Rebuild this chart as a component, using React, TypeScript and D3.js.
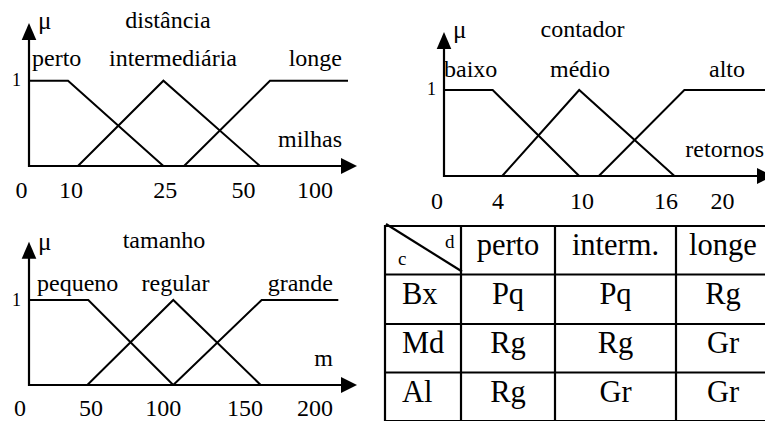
import React from 'react';
import * as d3 from 'd3';

// ---------------- data ----------------
const distanciaTicks = [0, 10, 25, 50, 100];
const distanciaSets = [
  { name: 'perto', points: [[9.4, 1], [24.7, 0]], left: true, right: false },
  { name: 'intermediária', points: [[11.1, 0], [24.7, 1], [61.5, 0]], left: false, right: false },
  { name: 'longe', points: [[31, 0], [68.5, 1]], left: false, right: true },
];

const contadorTicks = [0, 4, 10, 16, 20];
const contadorSets = [
  { name: 'baixo', points: [[3.65, 1], [9.8, 0]], left: true, right: false },
  { name: 'médio', points: [[4.3, 0], [9.8, 1], [16.6, 0]], left: false, right: false },
  { name: 'alto', points: [[11.2, 0], [17.3, 1]], left: false, right: true },
];

const tamanhoTicks = [0, 50, 100, 150, 200];
const tamanhoSets = [
  { name: 'pequeno', points: [[48.1, 1], [106.1, 0]], left: true, right: false },
  { name: 'regular', points: [[47.4, 0], [106.1, 1], [161.2, 0]], left: false, right: false },
  { name: 'grande', points: [[106.1, 0], [161.9, 1]], left: false, right: true },
];

const tableColumns = ['perto', 'interm.', 'longe'];
const tableRows = ['Bx', 'Md', 'Al'];
const tableCells = [
  ['Pq', 'Pq', 'Rg'],
  ['Rg', 'Rg', 'Gr'],
  ['Rg', 'Gr', 'Gr'],
];

// ---------------- layout ----------------
const FONT = 'Liberation Serif';
const W = 765;
const H = 421;

type Lbl = { x: number; anchor: 'start' | 'middle' | 'end' };

const panels = [
  {
    title: 'distância', unit: 'milhas', ticks: distanciaTicks, sets: distanciaSets,
    tickX: [21.5, 71, 165.3, 243.5, 315], originX: 29, axisEndX: 357, shoulderEndX: 348,
    yOne: 80.7, yBase: 166, arrowTopY: 23,
    titleX: 168, titleY: 28, muX: 38, muY: 29, labelY: 65.7,
    labels: [{ x: 32, anchor: 'start' }, { x: 173, anchor: 'middle' }, { x: 342, anchor: 'end' }] as Lbl[],
    oneX: 16.5, oneY: 86, unitX: 342, unitY: 147, tickY: 198,
  },
  {
    title: 'contador', unit: 'retornos', ticks: contadorTicks, sets: contadorSets,
    tickX: [437, 498, 582, 666, 722.5], originX: 444, axisEndX: 773, shoulderEndX: 766,
    yOne: 90, yBase: 176, arrowTopY: 32,
    titleX: 582.5, titleY: 37, muX: 453, muY: 38, labelY: 77,
    labels: [{ x: 444, anchor: 'start' }, { x: 580, anchor: 'middle' }, { x: 727, anchor: 'middle' }] as Lbl[],
    oneX: 431.5, oneY: 95, unitX: 764, unitY: 157, tickY: 209,
  },
  {
    title: 'tamanho', unit: 'm', ticks: tamanhoTicks, sets: tamanhoSets,
    tickX: [20, 91, 163.3, 245, 315], originX: 29, axisEndX: 357, shoulderEndX: 338.3,
    yOne: 300, yBase: 385, arrowTopY: 241.7,
    titleX: 164, titleY: 248, muX: 38, muY: 250, labelY: 291,
    labels: [{ x: 37, anchor: 'start' }, { x: 175.5, anchor: 'middle' }, { x: 333, anchor: 'end' }] as Lbl[],
    oneX: 16.5, oneY: 306, unitX: 333, unitY: 366, tickY: 416,
  },
];

const table = {
  colX: [385, 461, 555, 676, 770],
  rowY: [226, 274.5, 324, 372.5, 421],
  textDy: 29,
  rowLabelDx: 17,
  fontSize: 30.5,
};

const LABEL_FS = 24;
const MU_FS = 25;
const TICK_FS = 24;
const ONE_FS = 18;

function T(props: {
  x: number; y: number; size: number; anchor?: 'start' | 'middle' | 'end'; children: React.ReactNode;
}) {
  return (
    <text
      x={props.x}
      y={props.y}
      fontFamily={FONT}
      fontSize={props.size}
      textAnchor={props.anchor || 'start'}
      style={{ fontFamily: `"${FONT}"`, fontSize: `${props.size}px` }}
    >
      {props.children}
    </text>
  );
}

function Panel({ p }: { p: (typeof panels)[number] }) {
  const x = d3.scaleLinear().domain(p.ticks).range(p.tickX);
  const y = d3.scaleLinear().domain([0, 1]).range([p.yBase, p.yOne]);
  const line = d3.line<[number, number]>().x((d) => d[0]).y((d) => d[1]);

  const paths = p.sets.map((s) => {
    const pts: [number, number][] = s.points.map((pt) => [x(pt[0]), y(pt[1])]);
    if (s.left) pts.unshift([p.originX, y(1)]);
    if (s.right) pts.push([p.shoulderEndX, y(1)]);
    return line(pts) as string;
  });

  const ah = 8;
  const al = 16;
  return (
    <g>
      <line x1={p.originX} y1={p.yBase} x2={p.axisEndX - al + 1} y2={p.yBase} stroke="#000" strokeWidth={2.2} />
      <line x1={p.originX} y1={p.yBase + 1} x2={p.originX} y2={p.arrowTopY + al - 1} stroke="#000" strokeWidth={2.2} />
      <path
        d={`M${p.axisEndX},${p.yBase} L${p.axisEndX - al},${p.yBase - ah} L${p.axisEndX - al},${p.yBase + ah} Z`}
        fill="#000"
      />
      <path
        d={`M${p.originX},${p.arrowTopY} L${p.originX - 7.3},${p.arrowTopY + al + 1} L${p.originX + 7.3},${p.arrowTopY + al + 1} Z`}
        fill="#000"
      />
      {paths.map((d, i) => (
        <path key={i} d={d} fill="none" stroke="#000" strokeWidth={2} strokeLinejoin="miter" />
      ))}
      <T x={p.muX} y={p.muY} size={MU_FS}>μ</T>
      <T x={p.titleX} y={p.titleY} size={LABEL_FS} anchor="middle">{p.title}</T>
      {p.sets.map((s, i) => (
        <T key={s.name} x={p.labels[i].x} y={p.labelY} size={LABEL_FS} anchor={p.labels[i].anchor}>
          {s.name}
        </T>
      ))}
      <T x={p.oneX} y={p.oneY} size={ONE_FS} anchor="middle">1</T>
      <T x={p.unitX} y={p.unitY} size={LABEL_FS} anchor="end">{p.unit}</T>
      {p.ticks.map((t) => (
        <T key={t} x={x(t)} y={p.tickY} size={TICK_FS} anchor="middle">{String(t)}</T>
      ))}
    </g>
  );
}

function Table() {
  const { colX, rowY, textDy, rowLabelDx, fontSize } = table;
  const cx = (i: number) => (colX[i] + colX[i + 1]) / 2;
  return (
    <g>
      {rowY.map((yy, i) => (
        <line key={'h' + i} x1={colX[0] - 1} x2={colX[colX.length - 1]} y1={yy} y2={yy} stroke="#000" strokeWidth={2.2} />
      ))}
      {colX.map((xx, i) => (
        <line key={'v' + i} x1={xx} x2={xx} y1={rowY[0] - 1} y2={rowY[rowY.length - 1]} stroke="#000" strokeWidth={2.2} />
      ))}
      <line x1={colX[0] + 1} y1={rowY[0] - 2} x2={colX[1] + 1} y2={rowY[1] - 3} stroke="#000" strokeWidth={2.2} />
      <T x={colX[0] + 13} y={rowY[0] + 39} size={19}>c</T>
      <T x={colX[1] - 16} y={rowY[0] + 22} size={19}>d</T>
      {tableColumns.map((c, i) => (
        <T key={c} x={cx(i + 1)} y={rowY[0] + textDy} size={fontSize} anchor="middle">{c}</T>
      ))}
      {tableRows.map((r, ri) => (
        <g key={r}>
          <T x={colX[0] + rowLabelDx} y={rowY[ri + 1] + textDy} size={fontSize}>{r}</T>
          {tableCells[ri].map((v, ci) => (
            <T key={ci} x={cx(ci + 1)} y={rowY[ri + 1] + textDy} size={fontSize} anchor="middle">{v}</T>
          ))}
        </g>
      ))}
    </g>
  );
}

export default function App() {
  return (
    <svg
      width={W}
      height={H}
      fontFamily={FONT}
      style={{ position: 'absolute', left: 0, top: 0, fontFamily: `"${FONT}"` }}
    >
      <rect x={0} y={0} width={W} height={H} fill="#fff" />
      {panels.map((p) => (
        <Panel key={p.title} p={p} />
      ))}
      <Table />
    </svg>
  );
}
